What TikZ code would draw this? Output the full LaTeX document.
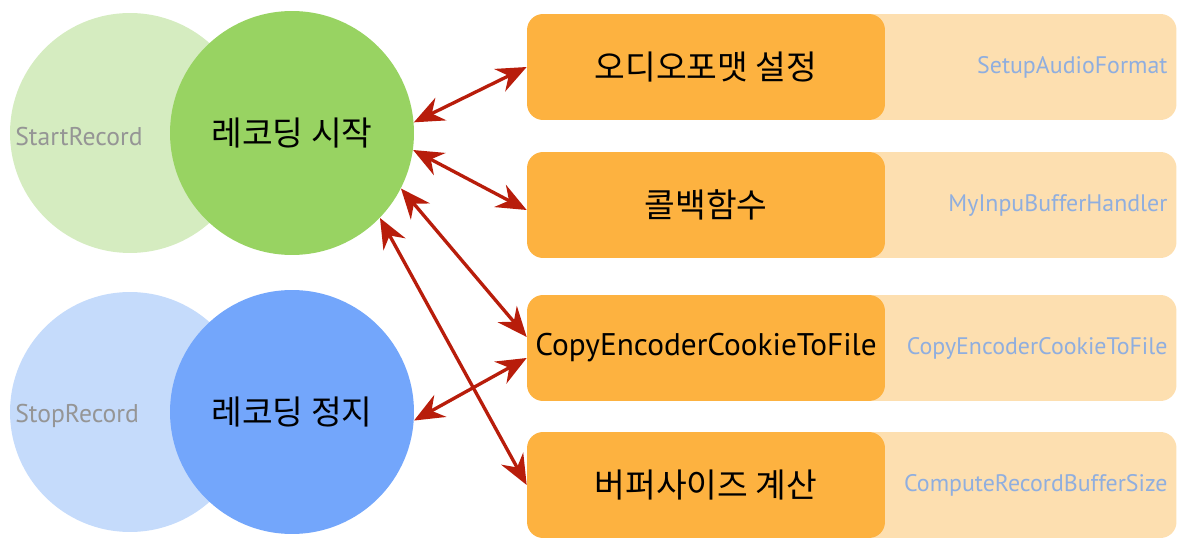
\documentclass[tikz,border=0pt]{standalone}
\usepackage{fontspec}
\setmainfont{PT Sans}
\newfontfamily\krfont{Noto Sans CJK KR}
\usetikzlibrary{arrows.meta, positioning}
\definecolor{recfill}{HTML}{98D362}
\definecolor{recfade}{HTML}{D5ECC0}
\definecolor{stopfill}{HTML}{73A6FB}
\definecolor{stopfade}{HTML}{C5DBFB}
\definecolor{fnfill}{HTML}{FDB240}
\definecolor{fnfade}{HTML}{FDDFB0}
\definecolor{apitext}{HTML}{8FAEDF}
\definecolor{nametext}{HTML}{959595}
\definecolor{callred}{HTML}{B81D0B}
\tikzset{
  recmain/.style  = {circle, minimum size=4.88cm, inner sep=0pt,
                     font=\krfont\fontsize{19}{22}\selectfont},
  recback/.style  = {circle, minimum size=4.80cm, inner sep=0pt},
  recname/.style  = {font=\fontsize{14.6}{17}\selectfont, text=nametext,
                     anchor=west, inner sep=0pt, xshift=3pt, yshift=-2pt},
  fnbox/.style    = {rounded corners=0.32cm, fill=fnfill,
                     minimum width=7.16cm, minimum height=2.12cm,
                     font=\krfont\fontsize{19}{22}\selectfont},
  fnback/.style   = {rounded corners=0.32cm, fill=fnfade,
                     minimum width=6.34cm, minimum height=2.12cm,
                     inner xsep=0.18cm, text width=5.98cm, align=right,
                     text=apitext, font=\fontsize{13.6}{16}\selectfont},
  callarr/.style  = {draw=callred, line width=1.9pt,
                     {Stealth[length=6mm, width=5mm, inset=2mm]}-{Stealth[length=6mm, width=5mm, inset=2mm]}},
}

\begin{document}
\begin{tikzpicture}[x=0.02cm, y=-0.02cm]
        \useasboundingbox (0,0) rectangle (1179,543);

        % recording circles
        \node[recback, fill=recfade] (recb) at (130,133) {};
        \node[recname] at (recb.west) {StartRecord};
        \node[recmain, fill=recfill] (rec) at (292,133) {레코딩 시작};

        \node[recback, fill=stopfade] (stopb) at (130,412) {};
        \node[recname] at (stopb.west) {StopRecord};
        \node[recmain, fill=stopfill] (stop) at (292,412) {레코딩 정지};

        % function boxes
        \node[fnback] (api1) at (1018,67) {SetupAudioFormat};
        \node[fnbox] (fn1) at (706,67) {오디오포맷 설정};
        \node[fnback] (api2) at (1018,205) {MyInpuBufferHandler};
        \node[fnbox] (fn2) at (706,205) {콜백함수};
        \node[fnback] (api3) at (1018,348) {CopyEncoderCookieToFile};
        \node[fnbox, font=\fontsize{17.8}{21}\selectfont] (fn3) at (706,348) {CopyEncoderCookieToFile};
        \node[fnback] (api4) at (1018,485) {ComputeRecordBufferSize};
        \node[fnbox] (fn4) at (706,485) {버퍼사이즈 계산};

        \draw[callarr] (rec.5) -- (fn1.west);
        \draw[callarr] (rec.-8) -- ([yshift=-0.1cm]fn2.west);
        \draw[callarr] (rec.-27) -- ([yshift=0.22cm]fn3.west);
        \draw[callarr] (rec.-44) -- (fn4.west);
        \draw[callarr] (stop.-4) -- ([yshift=-0.2cm]fn3.west);
    \end{tikzpicture}
\end{document}
